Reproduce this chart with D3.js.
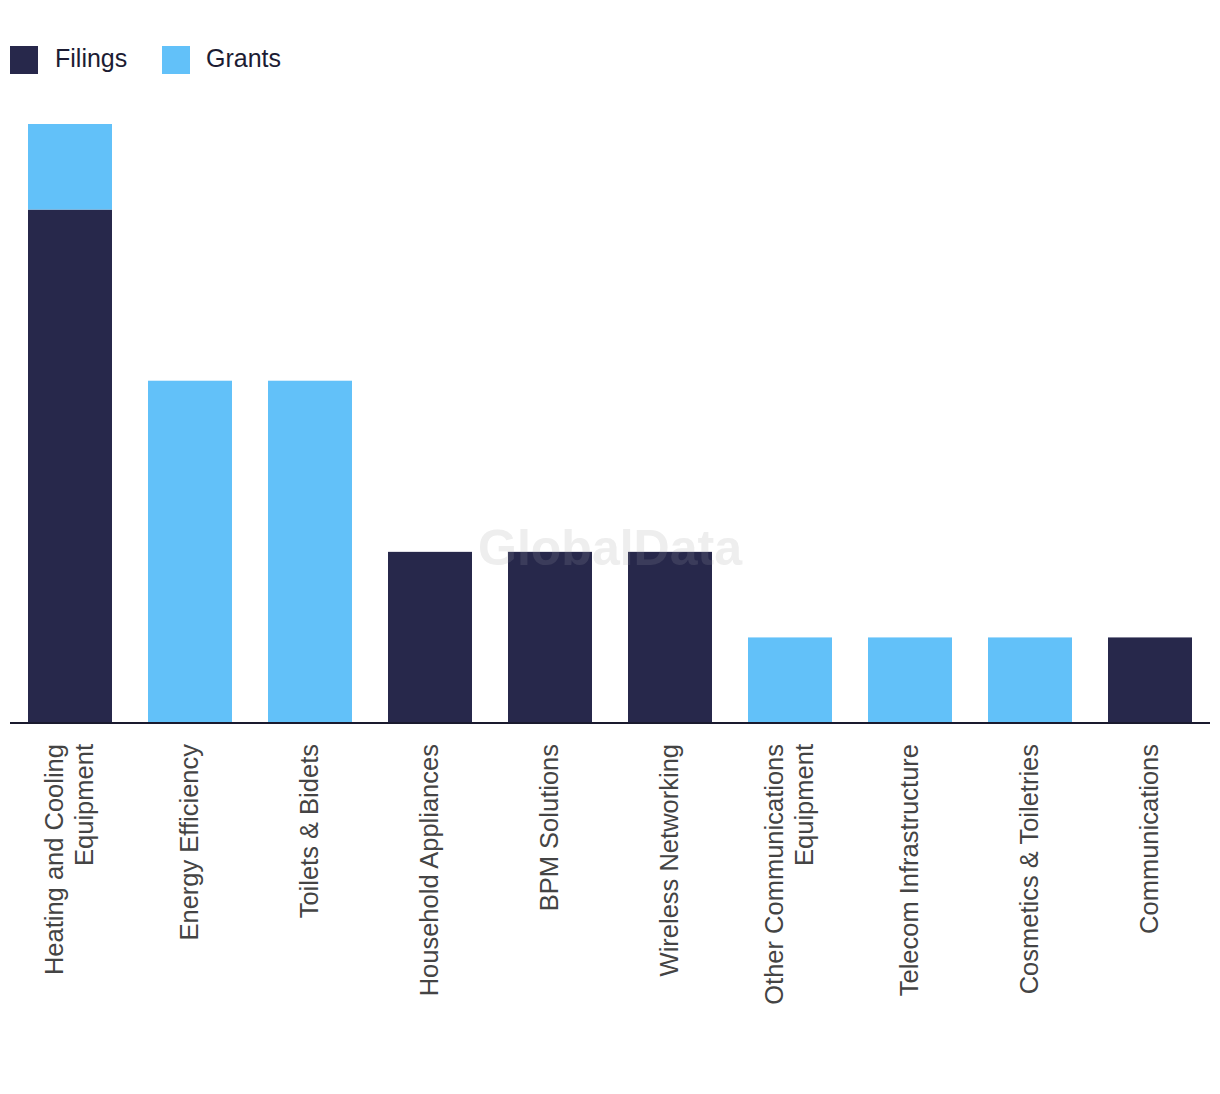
<!DOCTYPE html>
<html>
<head>
<meta charset="utf-8">
<script src="https://cdn.jsdelivr.net/npm/d3@7"></script>
<style>
  html, body { margin: 0; padding: 0; background: #fff; }
  svg { display: block; }
</style>
</head>
<body>
<svg id="chart" width="1220" height="1094"></svg>
<script>
const categories = [
  ["Heating and Cooling", "Equipment"],
  ["Energy Efficiency"],
  ["Toilets & Bidets"],
  ["Household Appliances"],
  ["BPM Solutions"],
  ["Wireless Networking"],
  ["Other Communications", "Equipment"],
  ["Telecom Infrastructure"],
  ["Cosmetics & Toiletries"],
  ["Communications"]
];
const filings = [6, 0, 0, 2, 2, 2, 0, 0, 0, 1];
const grants  = [1, 4, 4, 0, 0, 0, 1, 1, 1, 0];
const seriesNames = ["Filings", "Grants"];
const colors = ["#27284b", "#62c1f9"];

const svg = d3.select("#chart");
const keys = categories.map(c => c.join(" "));
const rows = keys.map((k, i) => ({ key: k, Filings: filings[i], Grants: grants[i] }));
const stacked = d3.stack().keys(seriesNames)(rows);

const x = d3.scaleBand().domain(keys).range([10, 1210]).paddingInner(0.3).paddingOuter(0.15);
const y = d3.scaleLinear().domain([0, 7]).range([723, 124]);

// watermark
svg.append("text")
  .attr("x", 610).attr("y", 565)
  .attr("text-anchor", "middle")
  .style("font-family", "'Liberation Sans', Arial, sans-serif")
  .style("font-weight", "bold")
  .style("font-size", "50px")
  .style("fill", "#f3f3f3")
  .text("GlobalData");

// bars
svg.append("g").selectAll("g")
  .data(stacked)
  .join("g")
  .attr("fill", (d, i) => colors[i])
  .selectAll("rect")
  .data(d => d)
  .join("rect")
  .attr("x", d => x(d.data.key))
  .attr("width", x.bandwidth())
  .attr("y", d => y(d[1]))
  .attr("height", d => y(d[0]) - y(d[1]));

// watermark overlay on bars (semi-transparent)
svg.append("text")
  .attr("x", 610).attr("y", 565)
  .attr("text-anchor", "middle")
  .style("font-family", "'Liberation Sans', Arial, sans-serif")
  .style("font-weight", "bold")
  .style("font-size", "50px")
  .style("fill", "#cccccc")
  .style("opacity", 0.12)
  .text("GlobalData");

// axis
const axis = d3.axisBottom(x).tickSize(0).tickFormat("");
const gx = svg.append("g").attr("transform", "translate(0,723)").call(axis);
gx.select(".domain").attr("stroke", "#1a1a2e").attr("stroke-width", 2).attr("d", "M10,0H1210");

// labels
const labelG = svg.append("g");
categories.forEach((lines, i) => {
  const cx = x(keys[i]) + x.bandwidth() / 2;
  const n = lines.length;
  lines.forEach((line, j) => {
    const off = 8.3 + (j - (n - 1) / 2) * 30;
    labelG.append("text")
      .attr("transform", `translate(${cx + off},744) rotate(-90)`)
      .attr("text-anchor", "end")
      .style("font-family", "'Liberation Sans', Arial, sans-serif")
      .style("font-size", "25.5px")
      .style("fill", "#444444")
      .text(line);
  });
});

// legend
const legendX = [10, 162];
seriesNames.forEach((name, i) => {
  const g = svg.append("g").attr("transform", `translate(${legendX[i]},46)`);
  g.append("rect").attr("width", 28).attr("height", 28).attr("fill", colors[i]);
  g.append("text")
    .attr("x", i === 0 ? 45 : 44).attr("y", 21)
    .style("font-family", "'Liberation Sans', Arial, sans-serif")
    .style("font-size", "25px")
    .style("fill", "#1c1c33")
    .text(name);
});
</script>
</body>
</html>
